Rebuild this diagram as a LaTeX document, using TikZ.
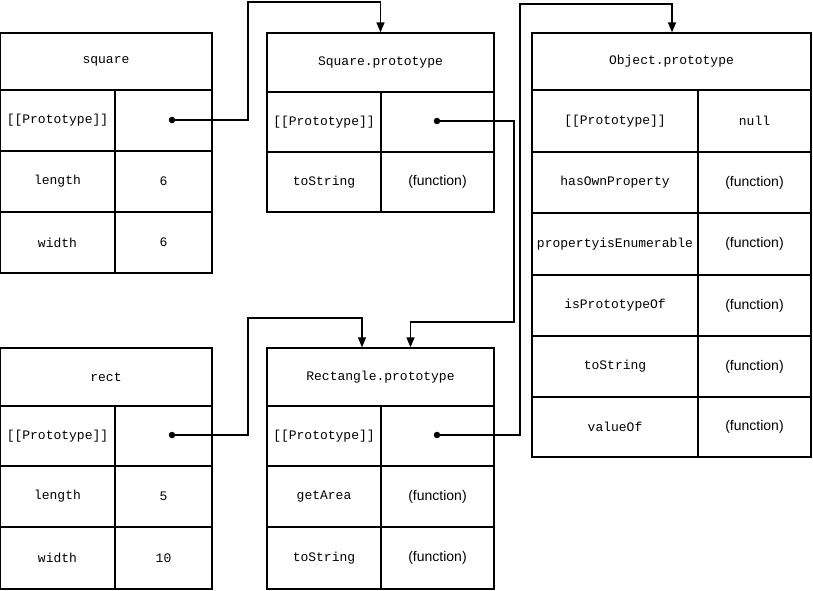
\documentclass[tikz,border=0pt]{standalone}
\usepackage{fontspec}
\setmainfont{Liberation Sans}
\newfontfamily\mono{Liberation Mono}
\usetikzlibrary{arrows.meta}
\begin{document}
\begin{tikzpicture}[x=1pt,y=-1pt,
  cell/.style={draw,line width=1.3pt,inner sep=0pt,font=\mono\fontsize{13}{15}\selectfont},
  fn/.style={font=\fontsize{14}{16}\selectfont},
  dot/.style={circle,fill,inner sep=0pt,minimum size=6.5pt},
  link/.style={line width=1.3pt,-{Triangle[length=10pt,width=8pt]}}]
\useasboundingbox (0,0) rectangle (813,590);
\newcommand\cellat[7][]{\node[cell,#1,minimum width={#4-#3},minimum height={#6-#5}] (#2) at ({(#3+#4)/2},{(#5+#6)/2}) {#7};}
% square
\cellat{sqh}{0}{212}{33}{90}{square}
\cellat{sqa}{0}{115}{90}{151}{[[Prototype]]}
\cellat{sqb}{115}{212}{90}{151}{}
\cellat{sqc}{0}{115}{151}{212}{length}
\cellat{sqd}{115}{212}{151}{212}{6}
\cellat{sqe}{0}{115}{212}{273}{width}
\cellat{sqf}{115}{212}{212}{273}{6}
% Square.prototype
\cellat{sph}{267}{494}{33}{92}{Square.prototype}
\cellat{spa}{267}{381}{92}{152}{[[Prototype]]}
\cellat{spb}{381}{494}{92}{152}{}
\cellat{spc}{267}{381}{152}{212}{toString}
\cellat[fn]{spd}{381}{494}{152}{212}{(function)}
% Object.prototype
\cellat{oph}{532}{811}{33}{90}{Object.prototype}
\cellat{opa}{532}{698}{90}{152}{[[Prototype]]}
\cellat{opb}{698}{811}{90}{152}{null}
\cellat{opc}{532}{698}{152}{213}{hasOwnProperty}
\cellat[fn]{opd}{698}{811}{152}{213}{(function)}
\cellat{ope}{532}{698}{213}{275}{propertyisEnumerable}
\cellat[fn]{opf}{698}{811}{213}{275}{(function)}
\cellat{opg}{532}{698}{275}{336}{isPrototypeOf}
\cellat[fn]{opi}{698}{811}{275}{336}{(function)}
\cellat{opj}{532}{698}{336}{397}{toString}
\cellat[fn]{opk}{698}{811}{336}{397}{(function)}
\cellat{opl}{532}{698}{397}{457}{valueOf}
\cellat[fn]{opm}{698}{811}{397}{457}{(function)}
% rect
\cellat{rh}{0}{212}{348}{406}{rect}
\cellat{ra}{0}{115}{406}{466}{[[Prototype]]}
\cellat{rb}{115}{212}{406}{466}{}
\cellat{rc}{0}{115}{466}{527}{length}
\cellat{rd}{115}{212}{466}{527}{5}
\cellat{re}{0}{115}{527}{589}{width}
\cellat{rf}{115}{212}{527}{589}{10}
% Rectangle.prototype
\cellat{rph}{267}{494}{348}{406}{Rectangle.prototype}
\cellat{rpa}{267}{381}{406}{466}{[[Prototype]]}
\cellat{rpb}{381}{494}{406}{466}{}
\cellat{rpc}{267}{381}{466}{527}{getArea}
\cellat[fn]{rpd}{381}{494}{466}{527}{(function)}
\cellat{rpe}{267}{381}{527}{589}{toString}
\cellat[fn]{rpf}{381}{494}{527}{589}{(function)}
% dots
\node[dot] (d1) at (172,120) {};
\node[dot] (d2) at (437,121) {};
\node[dot] (d3) at (172,435) {};
\node[dot] (d4) at (437,435) {};
% links
\draw[link] (d1.center) -| (248,2) -| (sph.north);
\draw[link] (d2.center) -| (514,322) -| ([xshift=30pt]rph.north);
\draw[link] (d3.center) -| (248,318) -| ([xshift=-18.5pt]rph.north);
\draw[link] (d4.center) -| (520,4) -| ([xshift=0.5pt]oph.north);
\end{tikzpicture}
\end{document}
